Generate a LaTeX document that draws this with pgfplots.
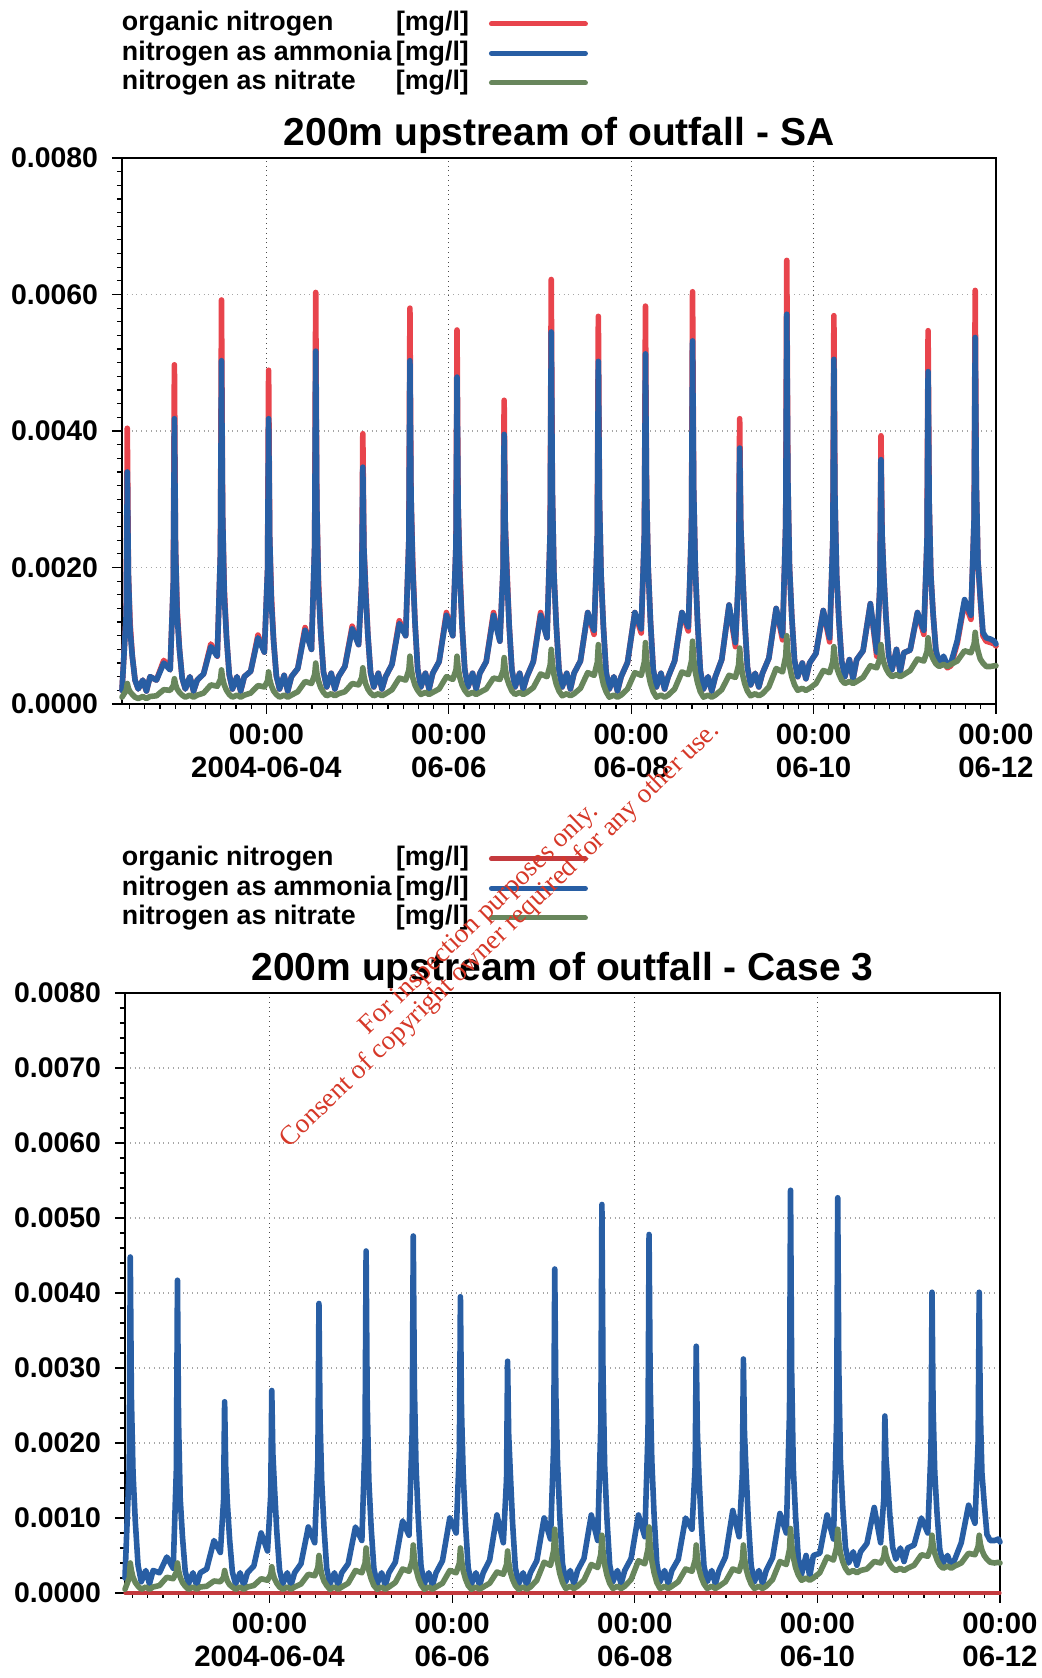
\documentclass[border=0pt]{standalone}
\usepackage{pgfplots}
\pgfplotsset{compat=1.18}
\usepackage{pgfplotstable}
\usepackage{fontspec}
\setmainfont{Liberation Sans}
\newfontfamily\wmfont{Liberation Serif}
\definecolor{orgred}{RGB}{232,68,76}
\definecolor{orgdark}{RGB}{196,58,62}
\definecolor{ammblue}{RGB}{40,94,164}
\definecolor{nitgreen}{RGB}{104,134,92}
\definecolor{wmred}{RGB}{214,56,40}

\pgfplotstableread{
t org amm nit
-1.583 0.0002 0.0002 0.0001
-1.5365 0.00132 0.00132 0.0002
-1.525 0.00404 0.0034 0.0003
-1.513 0.00191 0.00191 0.00023
-1.495 0.0012 0.0011 0.00018
-1.470 0.0007 0.0007 0.00014
-1.440 0.00035 0.00035 0.0001
-1.405 0.00022 0.00022 0.00008
-1.355 0.00035 0.00035 0.00011
-1.315 0.00019 0.00019 0.00008
-1.275 0.0004 0.0004 0.00011
-1.205 0.00035 0.00035 0.00012
-1.125 0.00064 0.0006 0.00021
-1.055 0.0005 0.0005 0.0002
-1.020 0.00179 0.00179 0.00027
-1.0085 0.00497 0.00418 0.00037
-0.9965 0.00231 0.00231 0.00029
-0.9785 0.0014 0.0013 0.00022
-0.9535 0.00081 0.00081 0.00017
-0.9235 0.00038 0.00038 0.00013
-0.8885 0.00022 0.00022 0.0001
-0.8385 0.0004 0.0004 0.00013
-0.7985 0.00019 0.00019 0.0001
-0.7585 0.00035 0.00035 0.00013
-0.6885 0.00044 0.00044 0.00016
-0.6085 0.00088 0.00084 0.00028
-0.5385 0.0007 0.0007 0.00026
-0.5035 0.00222 0.00222 0.00036
-0.492 0.00592 0.00503 0.0005
-0.480 0.0028 0.0028 0.00038
-0.462 0.0017 0.0016 0.00028
-0.437 0.00098 0.00098 0.0002
-0.407 0.00043 0.00043 0.00014
-0.372 0.00022 0.00022 0.0001
-0.322 0.0004 0.0004 0.00013
-0.282 0.00019 0.00019 0.0001
-0.242 0.0004 0.0004 0.00013
-0.172 0.00048 0.00048 0.00016
-0.092 0.00101 0.00097 0.00027
-0.022 0.00076 0.00076 0.00025
0.013 0.00196 0.00196 0.00034
0.0245 0.00489 0.00418 0.00047
0.0365 0.00244 0.00244 0.00036
0.0545 0.0016 0.0015 0.00027
0.0795 0.00092 0.00092 0.00019
0.1095 0.00041 0.00041 0.00014
0.1445 0.00022 0.00022 0.0001
0.1945 0.00042 0.00042 0.00013
0.2345 0.00019 0.00019 0.0001
0.2745 0.0004 0.0004 0.00013
0.3445 0.00052 0.00052 0.00018
0.4245 0.00112 0.00108 0.00033
0.4945 0.0008 0.0008 0.0003
0.5295 0.00233 0.00233 0.00043
0.541 0.00603 0.00517 0.0006
0.553 0.00292 0.00292 0.00046
0.571 0.0018 0.0017 0.00034
0.596 0.00105 0.00105 0.00024
0.626 0.00047 0.00047 0.00017
0.661 0.00025 0.00025 0.00012
0.711 0.00045 0.00045 0.00015
0.751 0.00022 0.00022 0.00012
0.791 0.0004 0.0004 0.00015
0.861 0.00055 0.00055 0.00018
0.941 0.00114 0.0011 0.0003
1.011 0.00087 0.00087 0.00028
1.046 0.00178 0.00178 0.00039
1.0575 0.00396 0.00347 0.00053
1.0695 0.00229 0.00229 0.00041
1.0875 0.00175 0.00165 0.0003
1.1125 0.00102 0.00102 0.00022
1.1425 0.00046 0.00046 0.00016
1.1775 0.00025 0.00025 0.00012
1.2275 0.00045 0.00045 0.00015
1.2675 0.00022 0.00022 0.00012
1.3075 0.0004 0.0004 0.00015
1.3775 0.00058 0.00058 0.00021
1.4575 0.00122 0.00118 0.00038
1.5275 0.001 0.001 0.00035
1.5625 0.00241 0.00241 0.0005
1.574 0.0058 0.00503 0.0007
1.586 0.00306 0.00306 0.00053
1.604 0.0021 0.002 0.00039
1.629 0.00121 0.00121 0.00028
1.659 0.00051 0.00051 0.0002
1.694 0.00025 0.00025 0.00014
1.744 0.00045 0.00045 0.00017
1.784 0.00022 0.00022 0.00014
1.824 0.00045 0.00045 0.00017
1.894 0.00062 0.00062 0.00022
1.974 0.00134 0.0013 0.0004
2.044 0.001 0.001 0.00036
2.079 0.00233 0.00233 0.0005
2.0905 0.00548 0.00479 0.0007
2.1025 0.0029 0.0029 0.00053
2.1205 0.002 0.0019 0.00039
2.1455 0.00116 0.00116 0.00028
2.1755 0.0005 0.0005 0.0002
2.2105 0.00025 0.00025 0.00014
2.2605 0.00045 0.00045 0.00017
2.3005 0.00022 0.00022 0.00014
2.3405 0.00045 0.00045 0.00017
2.4105 0.00062 0.00062 0.00022
2.4905 0.00134 0.0013 0.00038
2.5605 0.00092 0.00092 0.00036
2.5955 0.00198 0.00198 0.00049
2.607 0.00445 0.00395 0.00068
2.619 0.00262 0.00262 0.00052
2.637 0.002 0.0019 0.00038
2.662 0.00116 0.00116 0.00028
2.692 0.0005 0.0005 0.00019
2.727 0.00025 0.00025 0.00014
2.777 0.00045 0.00045 0.00017
2.817 0.00022 0.00022 0.00014
2.857 0.0004 0.0004 0.00017
2.927 0.00062 0.00062 0.00024
3.007 0.00134 0.0013 0.00044
3.077 0.00097 0.00097 0.0004
3.112 0.00254 0.00254 0.00057
3.1235 0.00622 0.00545 0.0008
3.1355 0.00314 0.00314 0.0006
3.1535 0.0019 0.0019 0.00043
3.1785 0.00116 0.00116 0.00029
3.2085 0.0005 0.0005 0.00019
3.2435 0.00025 0.00025 0.00012
3.2935 0.00045 0.00045 0.00015
3.3335 0.00022 0.00022 0.00012
3.3735 0.00045 0.00045 0.00015
3.4435 0.00063 0.00063 0.00023
3.5235 0.00134 0.00134 0.00046
3.5935 0.00102 0.00108 0.00042
3.6285 0.00246 0.00246 0.00061
3.640 0.00568 0.00502 0.00087
3.652 0.00299 0.00299 0.00064
3.670 0.0019 0.0019 0.00045
3.695 0.00114 0.00114 0.00029
3.725 0.00047 0.00047 0.00018
3.760 0.00022 0.00022 0.0001
3.810 0.0004 0.0004 0.00013
3.850 0.00019 0.00019 0.0001
3.890 0.0004 0.0004 0.00013
3.960 0.00061 0.00061 0.00022
4.040 0.00134 0.00134 0.00046
4.110 0.00104 0.0011 0.00042
4.145 0.00251 0.00251 0.00062
4.1565 0.00583 0.00513 0.0009
4.1685 0.0031 0.0031 0.00066
4.1865 0.002 0.002 0.00046
4.2115 0.00121 0.00121 0.0003
4.2415 0.00051 0.00051 0.00018
4.2765 0.00025 0.00025 0.0001
4.3265 0.00045 0.00045 0.00013
4.3665 0.00022 0.00022 0.0001
4.4065 0.0004 0.0004 0.00013
4.4765 0.00063 0.00063 0.00022
4.5565 0.00134 0.00134 0.00047
4.6265 0.00107 0.00113 0.00043
4.6615 0.0026 0.0026 0.00063
4.673 0.00604 0.00532 0.00092
4.685 0.00316 0.00316 0.00067
4.703 0.002 0.002 0.00047
4.728 0.0012 0.0012 0.00031
4.758 0.00049 0.00049 0.00018
4.793 0.00022 0.00022 0.0001
4.843 0.0004 0.0004 0.00013
4.883 0.00019 0.00019 0.0001
4.923 0.0004 0.0004 0.00013
4.993 0.00065 0.00065 0.00021
5.073 0.00145 0.00145 0.00042
5.143 0.00084 0.0009 0.00039
5.178 0.0019 0.0019 0.00057
5.1895 0.00418 0.00375 0.00082
5.2015 0.00261 0.00261 0.00061
5.2195 0.002 0.002 0.00044
5.2445 0.00123 0.00123 0.0003
5.2745 0.00054 0.00054 0.00019
5.3095 0.00028 0.00028 0.00012
5.3595 0.00045 0.00045 0.00015
5.3995 0.00025 0.00025 0.00012
5.4395 0.00045 0.00045 0.00015
5.5095 0.00067 0.00067 0.00025
5.5895 0.0014 0.0014 0.00052
5.6595 0.00094 0.001 0.00047
5.6945 0.00265 0.00265 0.0007
5.706 0.0065 0.00571 0.001
5.718 0.0033 0.0033 0.00076
5.736 0.002 0.002 0.00056
5.761 0.00128 0.00128 0.0004
5.791 0.00064 0.00064 0.00028
5.826 0.0004 0.0004 0.0002
5.876 0.0006 0.0006 0.00023
5.916 0.00037 0.00037 0.0002
5.956 0.0006 0.0006 0.00023
6.026 0.00074 0.00074 0.0003
6.106 0.00137 0.00137 0.00049
6.176 0.00091 0.00097 0.00046
6.211 0.0024 0.0024 0.00062
6.2225 0.00569 0.00505 0.00084
6.2345 0.003 0.003 0.00068
6.2525 0.0019 0.0019 0.00054
6.2775 0.00123 0.00123 0.00044
6.3075 0.00063 0.00063 0.00035
6.3425 0.0004 0.0004 0.0003
6.3925 0.00065 0.00065 0.00033
6.4325 0.00037 0.00037 0.0003
6.4725 0.00065 0.00065 0.00033
6.5425 0.00078 0.00078 0.00039
6.6225 0.00147 0.00147 0.00056
6.6925 0.0007 0.00076 0.00053
6.7275 0.00175 0.00175 0.00067
6.739 0.00393 0.00358 0.00087
6.751 0.00249 0.00249 0.00073
6.769 0.0019 0.0019 0.00061
6.794 0.00127 0.00127 0.00052
6.824 0.00071 0.00071 0.00045
6.859 0.0005 0.0005 0.0004
6.909 0.0008 0.0008 0.00043
6.949 0.00047 0.00047 0.0004
6.989 0.00075 0.00075 0.00043
7.059 0.00079 0.00079 0.00049
7.139 0.00134 0.00134 0.00066
7.209 0.00102 0.00108 0.00063
7.244 0.00241 0.00241 0.00077
7.2555 0.00547 0.00487 0.00097
7.2675 0.00294 0.00294 0.00084
7.2855 0.0019 0.0019 0.00074
7.3105 0.00132 0.00132 0.00066
7.3405 0.00078 0.0008 0.00059
7.3755 0.00056 0.0006 0.00055
7.4255 0.00066 0.0007 0.00058
7.4655 0.00053 0.00057 0.00055
7.5055 0.00056 0.0006 0.00058
7.5755 0.00089 0.00093 0.00063
7.6555 0.00149 0.00153 0.00078
7.7255 0.00124 0.0013 0.00075
7.7605 0.00273 0.00273 0.00088
7.772 0.00606 0.00537 0.00105
7.784 0.00324 0.00324 0.0009
7.802 0.0021 0.0021 0.00078
7.827 0.00155 0.00159 0.00066
7.857 0.001 0.00105 0.0006
7.892 0.00092 0.00097 0.00055
7.942 0.0009 0.00095 0.00055
7.982 0.00088 0.00092 0.00056
8.000 0.00085 0.00088 0.00056
}\topdata

\pgfplotstableread{
t amm nit
-1.583 0.0002 0.00005
-1.5365 0.0017 0.0002
-1.525 0.00448 0.0004
-1.513 0.00261 0.0003
-1.495 0.0016 0.00021
-1.470 0.00095 0.00014
-1.440 0.00037 0.00009
-1.405 0.00015 0.00005
-1.355 0.0003 0.00008
-1.315 0.00012 0.00005
-1.275 0.0003 0.00008
-1.205 0.00027 0.0001
-1.125 0.00048 0.00021
-1.055 0.00033 0.00019
-1.020 0.00167 0.00028
-1.0085 0.00417 0.0004
-0.9965 0.00229 0.0003
-0.9785 0.00127 0.00021
-0.9535 0.00075 0.00014
-0.9235 0.00029 0.00009
-0.8885 0.00012 0.00005
-0.8385 0.00027 0.00008
-0.7985 0.0001 0.00005
-0.7585 0.00027 0.00008
-0.6885 0.00032 0.00009
-0.6085 0.0007 0.00016
-0.5385 0.00054 0.00015
-0.5035 0.00124 0.00021
-0.492 0.00255 0.0003
-0.480 0.00167 0.00023
-0.462 0.0012 0.00016
-0.437 0.00071 0.00011
-0.407 0.00028 0.00008
-0.372 0.00012 0.00005
-0.322 0.00027 0.00008
-0.282 0.0001 0.00005
-0.242 0.00027 0.00008
-0.172 0.00036 0.0001
-0.092 0.0008 0.00019
-0.022 0.00056 0.00017
0.013 0.00131 0.00025
0.0245 0.0027 0.00035
0.0365 0.00186 0.00026
0.0545 0.0014 0.00019
0.0795 0.00082 0.00013
0.1095 0.00031 0.00008
0.1445 0.00012 0.00005
0.1945 0.00027 0.00008
0.2345 0.0001 0.00005
0.2745 0.00027 0.00008
0.3445 0.00039 0.00012
0.4245 0.00088 0.00025
0.4945 0.00067 0.00023
0.5295 0.00179 0.00034
0.541 0.00386 0.0005
0.553 0.00233 0.00037
0.571 0.0015 0.00025
0.596 0.00088 0.00016
0.626 0.00033 0.0001
0.661 0.00012 0.00005
0.711 0.00027 0.00008
0.751 0.0001 0.00005
0.791 0.00027 0.00008
0.861 0.00039 0.00013
0.941 0.00088 0.0003
1.011 0.0007 0.00027
1.046 0.00205 0.0004
1.0575 0.00456 0.0006
1.0695 0.00257 0.00044
1.0875 0.0015 0.0003
1.1125 0.00088 0.00019
1.1425 0.00033 0.0001
1.1775 0.00012 0.00005
1.2275 0.00027 0.00008
1.2675 0.0001 0.00005
1.3075 0.00027 0.00008
1.3775 0.00041 0.00014
1.4575 0.00096 0.00032
1.5275 0.00077 0.00029
1.5625 0.00217 0.00043
1.574 0.00476 0.00064
1.586 0.00277 0.00046
1.604 0.0017 0.00032
1.629 0.00099 0.0002
1.659 0.00036 0.00011
1.694 0.00012 0.00005
1.744 0.00027 0.00008
1.784 0.0001 0.00005
1.824 0.00027 0.00008
1.894 0.00043 0.00013
1.974 0.001 0.0003
2.044 0.0008 0.00027
2.079 0.0019 0.0004
2.0905 0.00395 0.0006
2.1025 0.00242 0.00044
2.1205 0.0016 0.0003
2.1455 0.00093 0.00019
2.1755 0.00034 0.0001
2.2105 0.00012 0.00005
2.2605 0.00027 0.00008
2.3005 0.0001 0.00005
2.3405 0.00027 0.00008
2.4105 0.00044 0.00013
2.4905 0.00104 0.00028
2.5605 0.00067 0.00025
2.5955 0.00152 0.00038
2.607 0.00309 0.00056
2.619 0.00212 0.00041
2.637 0.0016 0.00028
2.662 0.00093 0.00018
2.692 0.00034 0.0001
2.727 0.00012 0.00005
2.777 0.00027 0.00008
2.817 0.0001 0.00005
2.857 0.00027 0.00008
2.927 0.00043 0.00017
3.007 0.001 0.00041
3.077 0.00072 0.00037
3.112 0.00198 0.00057
3.1235 0.00432 0.00085
3.1355 0.00265 0.00061
3.1535 0.00175 0.00042
3.1785 0.00103 0.00026
3.2085 0.00039 0.00014
3.2435 0.00015 0.00006
3.2935 0.0003 0.00009
3.3335 0.00012 0.00006
3.3735 0.0003 0.00009
3.4435 0.00046 0.00017
3.5235 0.00104 0.00038
3.5935 0.0007 0.00034
3.6285 0.00227 0.00052
3.640 0.00518 0.00077
3.652 0.00292 0.00056
3.670 0.0017 0.00038
3.695 0.001 0.00024
3.725 0.00038 0.00013
3.760 0.00015 0.00006
3.810 0.0003 0.00009
3.850 0.00012 0.00006
3.890 0.0003 0.00009
3.960 0.00046 0.00018
4.040 0.00104 0.00043
4.110 0.00075 0.00039
4.145 0.00216 0.00059
4.1565 0.00478 0.00088
4.1685 0.00282 0.00063
4.1865 0.00177 0.00043
4.2115 0.00104 0.00027
4.2415 0.00039 0.00014
4.2765 0.00015 0.00006
4.3265 0.0003 0.00009
4.3665 0.00012 0.00006
4.4065 0.0003 0.00009
4.4765 0.00045 0.00015
4.5565 0.001 0.00032
4.6265 0.00085 0.00029
4.6615 0.0017 0.00044
4.673 0.00329 0.00064
4.685 0.00217 0.00047
4.703 0.00156 0.00032
4.728 0.00093 0.00021
4.758 0.00036 0.00012
4.793 0.00015 0.00006
4.843 0.0003 0.00009
4.883 0.00012 0.00006
4.923 0.0003 0.00009
4.993 0.00048 0.00015
5.073 0.0011 0.00032
5.143 0.00075 0.00029
5.178 0.00158 0.00044
5.1895 0.00312 0.00064
5.2015 0.00213 0.00047
5.2195 0.0016 0.00032
5.2445 0.00095 0.00021
5.2745 0.00037 0.00012
5.3095 0.00015 0.00006
5.3595 0.0003 0.00009
5.3995 0.00012 0.00006
5.4395 0.0003 0.00009
5.5095 0.00047 0.00018
5.5895 0.00106 0.00042
5.6595 0.0008 0.00038
5.6945 0.0024 0.00058
5.706 0.00537 0.00086
5.718 0.00297 0.00065
5.736 0.00167 0.00048
5.761 0.00103 0.00034
5.791 0.00046 0.00024
5.826 0.00025 0.00017
5.876 0.0005 0.0002
5.916 0.00022 0.00017
5.956 0.0005 0.0002
6.026 0.00053 0.00027
6.106 0.00104 0.00048
6.176 0.00072 0.00044
6.211 0.00231 0.00061
6.2225 0.00527 0.00085
6.2345 0.003 0.00068
6.2525 0.00177 0.00053
6.2775 0.00115 0.00042
6.3075 0.00061 0.00033
6.3425 0.0004 0.00027
6.3925 0.00055 0.0003
6.4325 0.00037 0.00027
6.4725 0.00055 0.0003
6.5425 0.00066 0.00032
6.6225 0.00114 0.00042
6.6925 0.00067 0.0004
6.7275 0.00126 0.00048
6.739 0.00236 0.0006
6.751 0.0018 0.00051
6.769 0.0015 0.00044
6.794 0.00103 0.00038
6.824 0.00061 0.00033
6.859 0.00045 0.0003
6.909 0.0006 0.00033
6.949 0.00042 0.0003
6.989 0.0006 0.00033
7.059 0.00064 0.00037
7.139 0.001 0.00051
7.209 0.0008 0.00049
7.244 0.00192 0.00061
7.2555 0.00401 0.00077
7.2675 0.00244 0.00064
7.2855 0.0016 0.00053
7.3105 0.00106 0.00044
7.3405 0.00058 0.00037
7.3755 0.0004 0.00033
7.4255 0.0005 0.00036
7.4655 0.00037 0.00033
7.5055 0.00045 0.00036
7.5755 0.00067 0.0004
7.6555 0.00117 0.00053
7.7255 0.00093 0.00051
7.7605 0.00201 0.00062
7.772 0.00401 0.00077
7.784 0.00244 0.00066
7.802 0.0016 0.00057
7.827 0.0012 0.0005
7.857 0.00078 0.00045
7.892 0.0007 0.00041
7.942 0.0007 0.0004
7.982 0.00072 0.00041
8.000 0.00068 0.0004
}\botdata

\pgfplotsset{
  mystyle/.style={
    scale only axis, clip=false,
    xmin=-1.583, xmax=8, ymin=0, ymax=0.008,
    axis line style={line width=0.8pt},
    xtick={0,2,4,6,8},
    xticklabels={{00:00\\2004-06-04},{00:00\\06-06},{00:00\\06-08},{00:00\\06-10},{00:00\\06-12}},
    minor xtick={-1.5,-1.33333,...,8},
    tick align=outside, xtick pos=bottom, ytick pos=left,
    major tick length=5pt, minor tick length=2.5pt,
    tick style={black, line width=0.6pt},
    xticklabel style={align=center, font=\bfseries\fontsize{14.7}{16.5}\selectfont, yshift=-1.5pt},
    yticklabel style={font=\bfseries\fontsize{14.2}{16}\selectfont, xshift=-3.5pt,
      /pgf/number format/.cd, fixed, fixed zerofill, precision=4, assume math mode=true},
    scaled y ticks=false,
    xmajorgrids, ymajorgrids,
    x grid style={dotted, black!70, line width=0.6pt},
    y grid style={dotted, black!35, line width=0.6pt},
    title style={font=\bfseries\fontsize{19.5}{22}\selectfont, at={(0.5,1)}, anchor=base, yshift=0pt},
    legend style={draw=none, fill=none, at={(0,1)}, anchor=north west, yshift=73.5pt,
      inner sep=0pt, outer sep=0pt, row sep=1.75pt, column sep=10pt,
      font=\bfseries\fontsize{13.4}{14}\selectfont,
      nodes={inner sep=0pt, text height=10pt, text depth=3pt}},
    legend cell align=left,
    legend plot pos=right,
    legend image code/.code={\draw[#1, line width=2.5pt, line cap=round] (0pt,0pt) -- (47pt,0pt);},
    every axis plot/.append style={line width=2.8pt, line join=round, line cap=round},
  }
}

\begin{document}
\begin{tikzpicture}
\useasboundingbox (0,0) rectangle (521pt,839pt);
\begin{axis}[mystyle, at={(61pt,487pt)}, anchor=south west, width=437pt, height=273pt,
  ytick={0,0.002,0.004,0.006,0.008}, minor y tick num=9,
  title={200m upstream of outfall - SA}]
\addplot[orgred] table[x=t,y=org]{\topdata};
\addlegendentry{\makebox[137pt][l]{organic nitrogen}[mg/l]}
\addplot[ammblue] table[x=t,y=amm]{\topdata};
\addlegendentry{\makebox[137pt][l]{nitrogen as ammonia}[mg/l]}
\addplot[nitgreen] table[x=t,y=nit]{\topdata};
\addlegendentry{\makebox[137pt][l]{nitrogen as nitrate}[mg/l]}
\end{axis}
\begin{axis}[mystyle, at={(62.5pt,42.5pt)}, anchor=south west, width=437.5pt, height=300pt,
  ytick={0,0.001,0.002,0.003,0.004,0.005,0.006,0.007,0.008}, minor y tick num=4,
  legend style={xshift=-1.5pt},
  title={200m upstream of outfall - Case 3}]
\addplot[orgdark, line width=1.6pt] coordinates {(-1.583,0) (8,0)};
\addlegendentry{\makebox[137pt][l]{organic nitrogen}[mg/l]}
\addplot[ammblue] table[x=t,y=amm]{\botdata};
\addlegendentry{\makebox[137pt][l]{nitrogen as ammonia}[mg/l]}
\addplot[nitgreen] table[x=t,y=nit]{\botdata};
\addlegendentry{\makebox[137pt][l]{nitrogen as nitrate}[mg/l]}
\end{axis}
\node[rotate=44, anchor=base, inner sep=0pt, text=wmred, font=\wmfont\fontsize{13.6}{15}\selectfont] at (242pt,377pt) {For inspection purposes only.};
\node[rotate=44, anchor=base, inner sep=0pt, text=wmred, font=\wmfont\fontsize{13.6}{15}\selectfont] at (252.5pt,369pt) {Consent of copyright owner required for any other use.};
\end{tikzpicture}
\end{document}
